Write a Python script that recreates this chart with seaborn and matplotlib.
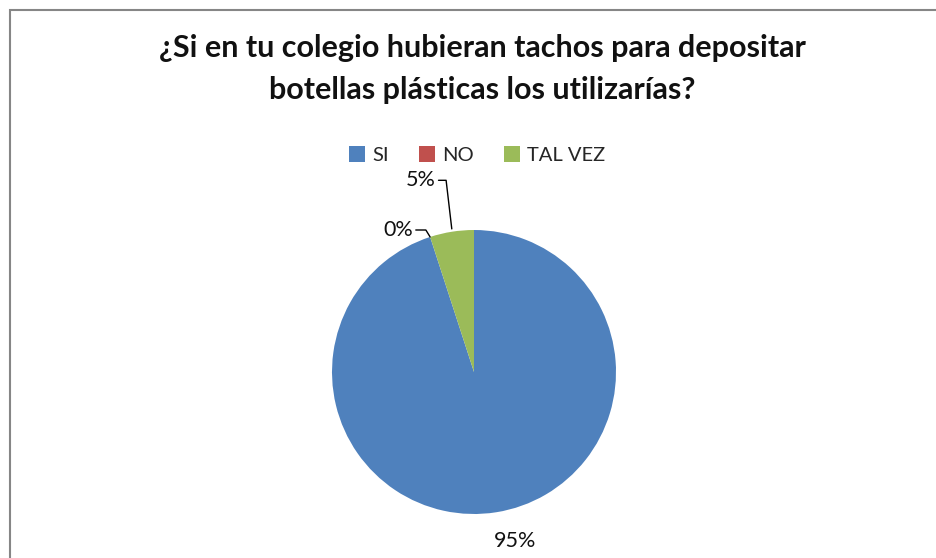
import numpy as np
import matplotlib
matplotlib.use("Agg")
import matplotlib.pyplot as plt
import seaborn as sns
from matplotlib.patches import Rectangle, Patch

categories = ["SI", "NO", "TAL VEZ"]
values = [95, 0, 5]
colors = ["#4F81BD", "#C0504D", "#9BBB59"]
title = "¿Si en tu colegio hubieran tachos para depositar\nbotellas plásticas los utilizarías?"

sns.set_theme(style="white")
plt.rcParams['font.family'] = ['Lato', 'DejaVu Sans']

W, H = 937, 558
fig = plt.figure(figsize=(W / 100, H / 100), dpi=100)
fig.patch.set_facecolor("white")

# chart border
fig.add_artist(Rectangle((10 / W, -0.05), 1.0, 1 - 9.5 / H + 0.05, transform=fig.transFigure,
                         fill=False, edgecolor="#868686", linewidth=1.5))

cx, cy, r = 474, 372, 142
ax = fig.add_axes([(cx - r) / W, (H - cy - r) / H, 2 * r / W, 2 * r / H])
wedges, _ = ax.pie(values, colors=colors, startangle=90, counterclock=False, radius=1.0,
                   wedgeprops=dict(linewidth=0))
ax.set_xlim(-1, 1)
ax.set_ylim(-1, 1)
ax.set_aspect("equal")
ax.axis("off")

total = sum(values)
# label text offsets (axes units) for each category
label_pos = {"SI": (0.29, -1.19), "NO": (-0.43, 1.0), "TAL VEZ": (-0.27, 1.35)}
for w, cat, v in zip(wedges, categories, values):
    mid = np.deg2rad((w.theta1 + w.theta2) / 2)
    ex, ey = np.cos(mid), np.sin(mid)
    tx, ty = label_pos[cat]
    txt = f"{round(100 * v / total)}%"
    if cat == "SI":
        ax.text(tx, ty, txt, ha="center", va="center", fontsize=15.5, color="#111111", clip_on=False)
    else:
        elbow_x = ex - 0.03 if cat == "NO" else ex - 0.04
        ax.plot([tx + 0.02, elbow_x, ex], [ty, ty, ey + 0.02] if cat == "TAL VEZ" else [ty, ty, ey],
                color="black", lw=1, clip_on=False)
        ax.text(tx, ty, txt, ha="right", va="center", fontsize=15.5, color="#111111", clip_on=False)

fig.text(482 / W, 1 - 69 / H, title, ha="center", va="center", fontsize=22,
         fontweight="bold", linespacing=1.6, color="#111111")

handles = [Patch(facecolor=c, edgecolor="none") for c in colors]
fig.legend(handles, categories, loc="center", bbox_to_anchor=(477 / W, 1 - 155 / H), ncol=3,
           frameon=False, fontsize=14.5, handlelength=0.8, handleheight=0.8,
           handletextpad=0.35, columnspacing=1.5)

fig.savefig("out.png", dpi=100)
